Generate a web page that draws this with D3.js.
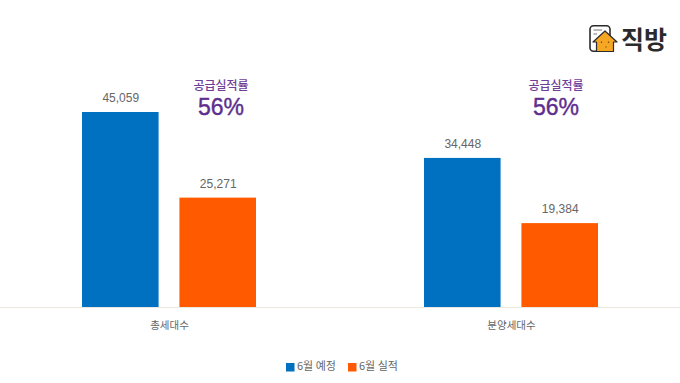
<!DOCTYPE html>
<html>
<head>
<meta charset="utf-8">
<script src="https://cdn.jsdelivr.net/npm/d3@7"></script>
<style>
  html, body { margin: 0; padding: 0; background: #fff; }
  text { font-family: "Liberation Sans", "Noto Sans CJK KR", sans-serif; }
</style>
</head>
<body>
<div id="chart"></div>
<script>
var categories = ["총세대수", "분양세대수"];
var seriesNames = ["6월 예정", "6월 실적"];
var planned = [45059, 34448];
var actual = [25271, 19384];
var rates = ["56%", "56%"];
var colors = ["#0070c0", "#ff5a00"];

var width = 680, height = 383;
var baseline = 307;

var svg = d3.select("#chart")
    .append("svg")
    .attr("width", width)
    .attr("height", height)
    .style("display", "block");

var xScale = d3.scaleBand().domain(categories).range([-1.5, 682.5]);
var yScale = d3.scaleLinear().domain([0, 45059]).range([baseline, 112]);
var innerScale = d3.scaleBand().domain(seriesNames).range([0, 174]).paddingInner(0.214);

// baseline + category labels
var xAxis = svg.append("g")
    .attr("transform", "translate(0," + baseline + ")")
    .call(d3.axisBottom(xScale).tickSize(0).tickPadding(15));
xAxis.select(".domain").attr("stroke", "#ece8e0").attr("d", "M0,0.5H680");
xAxis.selectAll("text")
    .style("font-family", '"Noto Sans CJK KR", sans-serif')
    .style("font-size", "10.5px")
    .attr("fill", "#666");

var series = [planned, actual];
var rateX = [221, 556];

categories.forEach(function (cat, i) {
    var left = xScale(cat) + xScale.bandwidth() / 2 - 87.5;
    seriesNames.forEach(function (name, j) {
        var v = series[j][i];
        var bx = left + innerScale(name);
        svg.append("rect")
            .attr("x", bx)
            .attr("y", yScale(v))
            .attr("width", innerScale.bandwidth())
            .attr("height", baseline - yScale(v))
            .attr("fill", colors[j]);
        svg.append("text")
            .attr("x", bx + innerScale.bandwidth() / 2 + 0.5)
            .attr("y", yScale(v) - 10)
            .attr("text-anchor", "middle")
            .style("font-size", "12px")
            .attr("fill", "#666")
            .text(d3.format(",")(v));
    });

    // rate callout
    svg.append("text")
        .attr("x", rateX[i])
        .attr("y", 90)
        .attr("text-anchor", "middle")
        .style("font-family", '"Noto Sans CJK KR", sans-serif')
        .style("font-size", "12px")
        .style("font-weight", 500)
        .attr("fill", "#6f3f98")
        .text("공급실적률");
    svg.append("text")
        .attr("x", rateX[i])
        .attr("y", 115)
        .attr("text-anchor", "middle")
        .style("font-size", "23px")
        .attr("fill", "#5e2f8e")
        .attr("stroke", "#5e2f8e")
        .attr("stroke-width", 0.4)
        .text(rates[i]);
});

// legend
var legendX = [285, 347];
seriesNames.forEach(function (name, j) {
    svg.append("rect")
        .attr("x", legendX[j] + 1)
        .attr("y", 363)
        .attr("width", 8.5)
        .attr("height", 8.5)
        .attr("fill", colors[j]);
    svg.append("text")
        .attr("x", legendX[j] + 12)
        .attr("y", 370)
        .style("font-family", '"Noto Sans CJK KR", sans-serif')
        .style("font-size", "11px")
        .attr("fill", "#666")
        .text(name);
});

// logo
var logo = svg.append("g").attr("transform", "translate(589,25)");
logo.append("rect")
    .attr("x", 1).attr("y", 0.8)
    .attr("width", 20).attr("height", 25.5)
    .attr("rx", 3.5)
    .attr("fill", "#fff")
    .attr("stroke", "#2b2b2b")
    .attr("stroke-width", 1.6);
logo.append("path")
    .attr("d", "M4.5,5H13M4.5,9H8")
    .attr("stroke", "#777")
    .attr("fill", "none");
logo.append("path")
    .attr("d", "M4,17L16,6L28,17H24.5V26.5H7.5V17Z")
    .attr("fill", "#f5a623")
    .attr("stroke", "#2b2b2b")
    .attr("stroke-width", 1.2)
    .attr("stroke-linejoin", "round");
logo.append("path")
    .attr("d", "M12.5,16.5v1.5M19.5,16.5v1.5M17,21.5v1")
    .attr("stroke", "#7a4a10")
    .attr("stroke-width", 1.2)
    .attr("fill", "none");
svg.append("text")
    .attr("x", 621)
    .attr("y", 49)
    .style("font-family", '"Noto Sans CJK KR", sans-serif')
    .style("font-size", "25px")
    .style("font-weight", 700)
    .attr("fill", "#2b2b2b")
    .text("직방");
</script>
</body>
</html>
